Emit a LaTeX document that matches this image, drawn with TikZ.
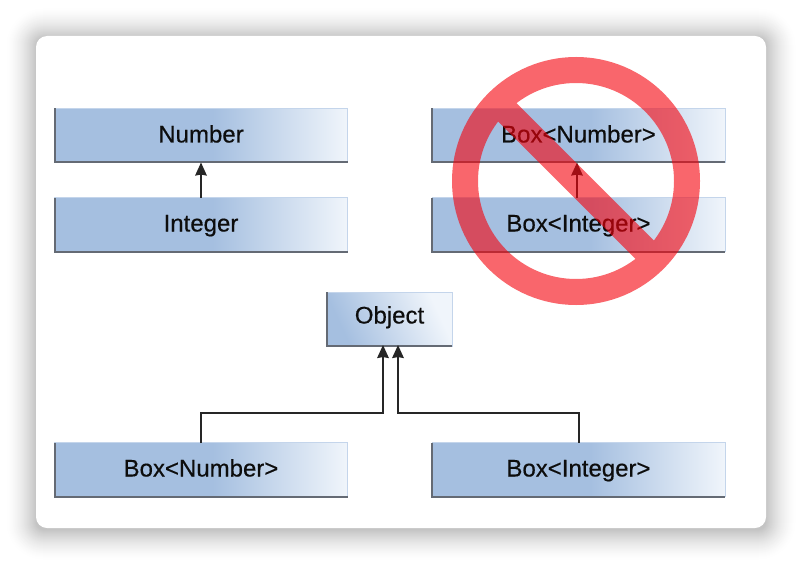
\documentclass[tikz,border=0pt]{standalone}
\usepackage{fontspec}
\setmainfont{Liberation Sans}
\newfontfamily\labelfont[FakeBold=0.4]{Liberation Sans}
\usetikzlibrary{arrows.meta}
\definecolor{boxblue}{RGB}{165,191,224}
\definecolor{boxpale}{RGB}{240,245,251}
\definecolor{boxrim}{RGB}{196,213,235}
\definecolor{boxedge}{RGB}{100,106,116}
\definecolor{wirecol}{RGB}{38,38,38}
\definecolor{signred}{RGB}{245,0,10}
\pgfdeclarehorizontalshading{wideblue}{100bp}{color(0bp)=(boxblue); color(25bp)=(boxblue); color(52bp)=(boxblue); color(75bp)=(boxpale); color(100bp)=(boxpale)}
\pgfdeclarehorizontalshading{smallblue}{100bp}{color(0bp)=(boxblue); color(27bp)=(boxblue); color(73bp)=(boxpale); color(100bp)=(boxpale)}
\tikzset{
  classbox/.style={draw=boxrim,line width=1pt,shading=wideblue,shading angle=0,inner sep=0pt,outer sep=0pt,
    minimum width=293pt,minimum height=54pt,text=black!95,font=\labelfont\fontsize{24}{28}\selectfont,
    text height=18pt,text depth=4pt},
  rootbox/.style={classbox,shading=smallblue,shading angle=25,minimum width=125pt,text depth=9pt},
  rimdark/.style={draw=boxedge,line width=2pt,line cap=butt},
  wire/.style={draw=wirecol,line width=2pt,-{Stealth[length=13pt,width=11.5pt,inset=1pt]}},
}
\begin{document}
\begin{tikzpicture}[x=1pt,y=-1pt]
\useasboundingbox (0,0) rectangle (802,564);
\fill[white] (0,0) rectangle (802,564);
\begin{scope}
\clip (0,0) rectangle (802,564);
\foreach \d in {31,30,...,0}{
  \pgfmathsetmacro{\shadeamt}{23*(1-\d/31)^1.6}
  \fill[black!\shadeamt!white,rounded corners=\d pt+8pt]
    (36-\d,38-\d) rectangle (766+\d,530+\d);
}
\end{scope}
\fill[white,rounded corners=11pt] (36,36) rectangle (766,528);

\node[classbox] (number)  at (201,135.5) {Number};
\node[classbox] (integer) at (201,224.5) {Integer};
\node[classbox] (boxnumA) at (578.5,135.5) {Box<Number>};
\node[classbox] (boxintA) at (578.5,224.5) {Box<Integer>};
\node[rootbox]  (object)  at (389.5,319) {Object};
\node[classbox] (boxnumB) at (201,469.5) {Box<Number>};
\node[classbox] (boxintB) at (578.5,469.5) {Box<Integer>};

\foreach \n in {number,integer,boxnumA,boxintA,object,boxnumB,boxintB}{
  \draw[rimdark] (\n.north west) -- (\n.south west) -- (\n.south east);
}

\draw[wire] (integer.north) -- (number.south);
\draw[wire] ([xshift=-1.5pt]boxintA.north) -- ([xshift=-1.5pt]boxnumA.south);
\draw[wire] (boxnumB.north) |- (383,413) -- ([xshift=-6.5pt,yshift=1pt]object.south);
\draw[wire] (boxintB.north) |- (398,413) -- ([xshift=8.5pt,yshift=1pt]object.south);

\begin{scope}[transparency group,opacity=0.6]
  \draw[signred,line width=26pt] (576,181) circle[radius=111];
  \draw[signred,line width=26pt,line cap=butt] (491,96) -- (661,266);
\end{scope}
\end{tikzpicture}
\end{document}
